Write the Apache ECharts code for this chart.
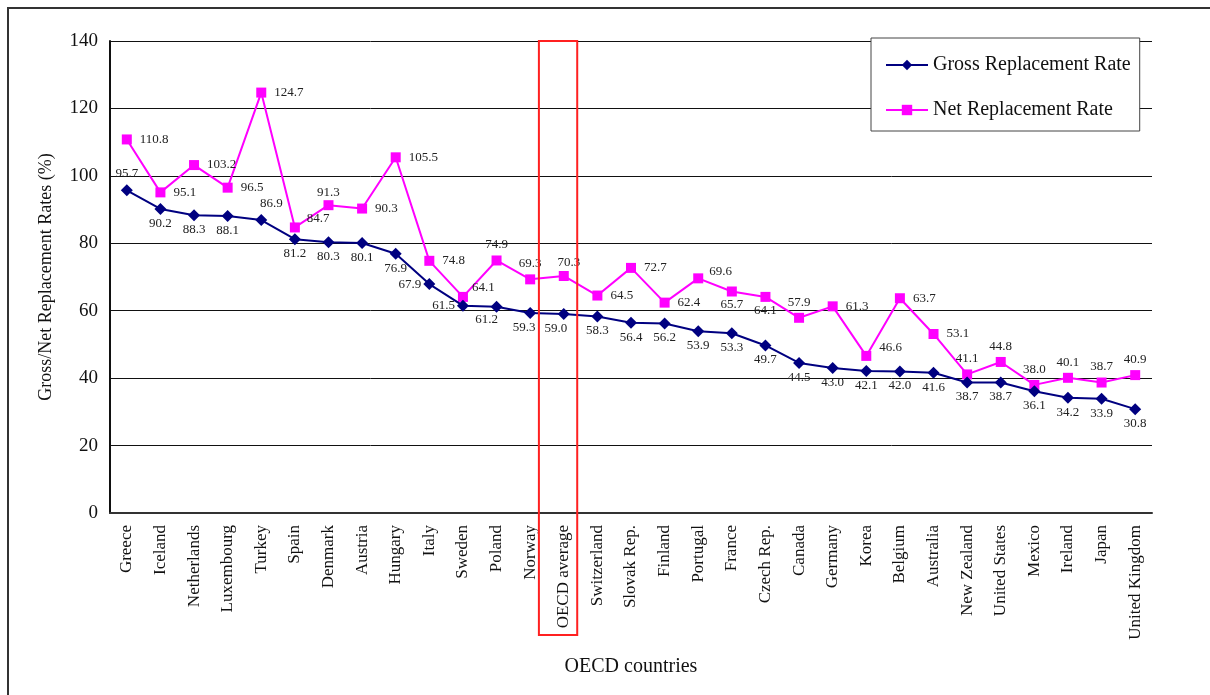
<!DOCTYPE html>
<html>
<head>
<meta charset="utf-8">
<script src="https://cdn.jsdelivr.net/npm/echarts@6/dist/echarts.min.js"></script>
<style>
  html, body { margin: 0; padding: 0; background: #fff; }
  #chart { width: 1210px; height: 695px; }
</style>
</head>
<body>
<div id="chart"></div>
<script>
// countries, sorted by gross rate (OECD average kept in place)
const countries = ['Greece', 'Iceland', 'Netherlands', 'Luxembourg', 'Turkey', 'Spain', 'Denmark', 'Austria',
  'Hungary', 'Italy', 'Sweden', 'Poland', 'Norway', 'OECD average', 'Switzerland', 'Slovak Rep.', 'Finland',
  'Portugal', 'France', 'Czech Rep.', 'Canada', 'Germany', 'Korea', 'Belgium', 'Australia', 'New Zealand',
  'United States', 'Mexico', 'Ireland', 'Japan', 'United Kingdom'];

const grossRate = [95.7, 90.2, 88.3, 88.1, 86.9, 81.2, 80.3, 80.1, 76.9, 67.9, 61.5, 61.2, 59.3, 59.0, 58.3,
  56.4, 56.2, 53.9, 53.3, 49.7, 44.5, 43.0, 42.1, 42.0, 41.6, 38.7, 38.7, 36.1, 34.2, 33.9, 30.8];

const netRate = [110.8, 95.1, 103.2, 96.5, 124.7, 84.7, 91.3, 90.3, 105.5, 74.8, 64.1, 74.9, 69.3, 70.3, 64.5,
  72.7, 62.4, 69.6, 65.7, 64.1, 57.9, 61.3, 46.6, 63.7, 53.1, 41.1, 44.8, 38.0, 40.1, 38.7, 40.9];

const yTicks = [0, 20, 40, 60, 80, 100, 120, 140];

// where each value label goes (kept apart from the data)
const grossLabelPos = { 0: 'top', 4: 'top', 9: 'left', 10: 'left' };
const grossLabelOffset = { 4: [10, 0], 11: [-10, -2], 12: [-6, 0], 13: [-8, 0] };
const netLabelPos = { 6: 'top', 11: 'top', 12: 'top', 13: 'top', 18: 'bottom', 19: 'bottom', 20: 'top',
  25: 'top', 26: 'top', 27: 'top', 28: 'top', 29: 'top', 30: 'top' };
const netLabelOffset = { 5: [-1, -9], 10: [-4, -9], 13: [5, 2], 17: [-2, -7], 22: [0, -8], 6: [0, 3] };

const serif = "'Liberation Serif', 'Times New Roman', serif";

function withLabels(values, posMap, offMap, defPos) {
  return values.map((v, i) => {
    const pos = posMap[i] || defPos;
    return {
      value: v,
      label: {
        position: pos,
        distance: pos === 'right' ? 8 : (pos === 'top' ? 4 : 2),
        offset: offMap[i] || [0, 0]
      }
    };
  });
}

const chart = echarts.init(document.getElementById('chart'));

const option = {
  backgroundColor: '#fff',
  animation: false,
  textStyle: { fontFamily: serif },
  grid: { left: 110, top: 41, right: 58, bottom: 182 },
  legend: {
    data: ['Gross Replacement Rate', 'Net Replacement Rate'],
    orient: 'vertical',
    left: 871,
    top: 38,
    backgroundColor: '#fff',
    borderColor: '#444',
    borderWidth: 1,
    padding: [17, 9, 11, 14],
    itemGap: 25,
    itemWidth: 42,
    itemHeight: 13,
    textStyle: { fontFamily: serif, fontSize: 20, lineHeight: 20, color: '#111' }
  },
  xAxis: {
    type: 'category',
    data: countries,
    boundaryGap: true,
    name: 'OECD countries',
    nameLocation: 'middle',
    nameGap: 144,
    nameTextStyle: { fontFamily: serif, fontSize: 20, color: '#111' },
    axisLine: { lineStyle: { color: '#333', width: 2 } },
    axisTick: { inside: true, length: 5, lineStyle: { color: '#333' } },
    axisLabel: { rotate: 90, interval: 0, margin: 12, fontFamily: serif, fontSize: 17, color: '#111' }
  },
  yAxis: {
    type: 'value',
    min: 0,
    max: yTicks[yTicks.length - 1],
    interval: 20,
    name: 'Gross/Net Replacement Rates (%)',
    nameLocation: 'middle',
    nameGap: 55,
    nameTextStyle: { fontFamily: serif, fontSize: 18, color: '#111' },
    axisLine: { show: true, lineStyle: { color: '#111', width: 2 } },
    axisTick: { show: false },
    axisLabel: { margin: 12, fontFamily: serif, fontSize: 19, color: '#111' },
    splitLine: { lineStyle: { color: '#111', width: 1 } }
  },
  series: [
    {
      name: 'Gross Replacement Rate',
      type: 'line',
      data: withLabels(grossRate, grossLabelPos, grossLabelOffset, 'bottom'),
      symbol: 'diamond',
      symbolSize: 12,
      itemStyle: { color: '#000080' },
      lineStyle: { color: '#000080', width: 2 },
      label: {
        show: true,
        fontFamily: serif,
        fontSize: 13,
        color: '#222',
        formatter: p => p.value.toFixed(1)
      },
      z: 3
    },
    {
      name: 'Net Replacement Rate',
      type: 'line',
      data: withLabels(netRate, netLabelPos, netLabelOffset, 'right'),
      symbol: 'rect',
      symbolSize: 10,
      itemStyle: { color: '#FF00FF' },
      lineStyle: { color: '#FF00FF', width: 2 },
      label: {
        show: true,
        fontFamily: serif,
        fontSize: 13,
        color: '#222',
        formatter: p => p.value.toFixed(1)
      },
      z: 2
    }
  ]
};

chart.setOption(option);

// frame round the picture and the red box marking the OECD average column
const cx = chart.convertToPixel({ xAxisIndex: 0 }, 'OECD average');
const band = (1210 - 110 - 58) / countries.length;
const topY = chart.convertToPixel({ yAxisIndex: 0 }, yTicks[yTicks.length - 1]);

chart.setOption({
  graphic: [
    {
      type: 'rect',
      shape: { x: 8, y: 8, width: 1230, height: 720 },
      style: { fill: 'none', stroke: '#333', lineWidth: 2 },
      silent: true
    },
    {
      type: 'rect',
      shape: { x: cx - 0.74 * band, y: topY, width: 1.14 * band, height: 635 - topY },
      style: { fill: 'none', stroke: '#FF2020', lineWidth: 2 },
      z: 100,
      silent: true
    }
  ]
});
</script>
</body>
</html>
